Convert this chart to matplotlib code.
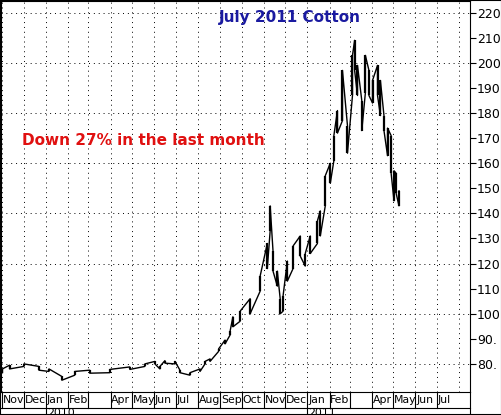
import matplotlib
matplotlib.use("Agg")
import matplotlib.pyplot as plt
import matplotlib.transforms as mtrans
import pandas as pd

# approximate weekly-ish high/low
dates = ["2009-11-01", "2009-11-11", "2009-12-01", "2009-12-22", "2010-01-05", "2010-01-23",
         "2010-02-10", "2010-03-03", "2010-03-31", "2010-04-28", "2010-05-19", "2010-06-02",
         "2010-06-09", "2010-06-16", "2010-06-30", "2010-07-07", "2010-07-21", "2010-08-04",
         "2010-08-11", "2010-08-18", "2010-08-30", "2010-09-08", "2010-09-15", "2010-09-19",
         "2010-09-29", "2010-10-13", "2010-10-27", "2010-11-06", "2010-11-10", "2010-11-14",
         "2010-11-20", "2010-11-24", "2010-11-28", "2010-12-04", "2010-12-12", "2010-12-22",
         "2010-12-29", "2011-01-05", "2011-01-15", "2011-01-19", "2011-01-26", "2011-02-02",
         "2011-02-07", "2011-02-12", "2011-02-19", "2011-02-26", "2011-03-05", "2011-03-08",
         "2011-03-12", "2011-03-18", "2011-03-23", "2011-03-28", "2011-04-02", "2011-04-09",
         "2011-04-13", "2011-04-18", "2011-04-23", "2011-04-28", "2011-05-02", "2011-05-05",
         "2011-05-09"]
highs = [78, 79.5, 80, 79, 78, 75, 77, 77.5, 77.8, 78.8, 80, 81, 79, 81.3, 81, 77.5, 76.5, 78,
         81, 82, 86, 89.5, 93, 98.8, 101, 106, 115, 128, 143, 125, 117, 106, 107, 121, 127, 131,
         124, 131, 137, 141, 155, 160, 171, 181, 197, 175, 203, 209, 199, 185, 203, 197, 193, 199,
         193, 179, 174, 171, 157, 156, 149]
lows = [76.5, 78, 79, 77.5, 77, 73.5, 75.5, 76.3, 76.5, 77.8, 79, 80, 78, 80.3, 80, 76.5, 75.5, 77,
        80, 81, 85, 88, 91.5, 94.8, 97, 100, 109, 118, 133, 117, 111, 100, 101, 113, 118, 123,
        119, 124, 128, 131, 143, 152, 161, 172, 177, 164, 187, 197, 187, 173, 188, 187, 184, 187,
        179, 173, 163, 156, 145, 148, 143]

months = pd.date_range("2009-11-01", "2011-08-01", freq="MS")
month_labels = ["Nov", "Dec", "Jan", "Feb", "", "Apr", "May", "Jun", "Jul", "Aug", "Sep", "Oct",
                "Nov", "Dec", "Jan", "Feb", "", "Apr", "May", "Jun", "Jul"]
yticks = list(range(80, 230, 10))

d = pd.to_datetime(dates)
fig = plt.figure(figsize=(5.02, 4.15), dpi=100)
ax = fig.add_axes([0.002, 0.0554, 0.934, 0.943])

# path through highs/lows to look like a dense bar chart
xs, ys = [], []
for i in range(len(d)):
    xs += [d[i], d[i]]
    ys += [lows[i], highs[i]] if i % 2 == 0 else [highs[i], lows[i]]
ax.plot(xs, ys, color="black", lw=1.0)
ax.vlines(d, lows, highs, color="black", lw=1.6)

ax.set_xlim(pd.Timestamp("2009-10-30"), pd.Timestamp("2011-08-16"))
ax.set_ylim(68.8, 224.8)
for m in months:
    ax.axvline(m, color="black", ls=(0, (1, 4)), lw=0.7)
for v in range(80, 230, 20):
    ax.axhline(v, color="black", ls=(0, (1, 4)), lw=0.7)

ax.yaxis.tick_right()
ax.set_yticks(yticks)
ax.set_yticklabels([f"{v}." if v < 100 else str(v) for v in yticks])
ax.tick_params(axis="y", length=4, labelsize=9, pad=1)
ax.set_xticks([])

# month / year rows below the plot
tr = mtrans.blended_transform_factory(ax.transData, fig.transFigure)
for m, lab in zip(months[:-1], month_labels):
    ax.plot([m, m], [0.017, 0.0554], transform=tr, color="black", lw=0.8, clip_on=False)
    ax.text(m + pd.Timedelta(days=1), 0.035, lab, transform=tr, fontsize=7.8,
            va="center", ha="left")
fig.add_artist(plt.Line2D([0, 0.936], [0.017, 0.017], color="black", lw=0.8))
fig.add_artist(plt.Line2D([0.936, 0.936], [0, 0.0554], color="black", lw=0.8))
for yr in ["2010-01-01", "2011-01-01"]:
    t = pd.Timestamp(yr)
    ax.plot([t, t], [0, 0.017], transform=tr, color="black", lw=0.8, clip_on=False)
    ax.text(t + pd.Timedelta(days=1), 0.004, yr[:4], transform=tr, fontsize=7.8,
            va="center", ha="left")

fig.text(0.578, 0.957, "July 2011 Cotton", color="#1a1aa0", fontsize=11,
         fontweight="bold", ha="center", va="center")
fig.text(0.044, 0.662, "Down 27% in the last month", color="#e01010", fontsize=11,
         fontweight="bold", ha="left", va="center")
fig.add_artist(plt.Rectangle((0, 0), 1, 1, fill=False, lw=1.5, transform=fig.transFigure))

fig.savefig("out.png", dpi=100)
